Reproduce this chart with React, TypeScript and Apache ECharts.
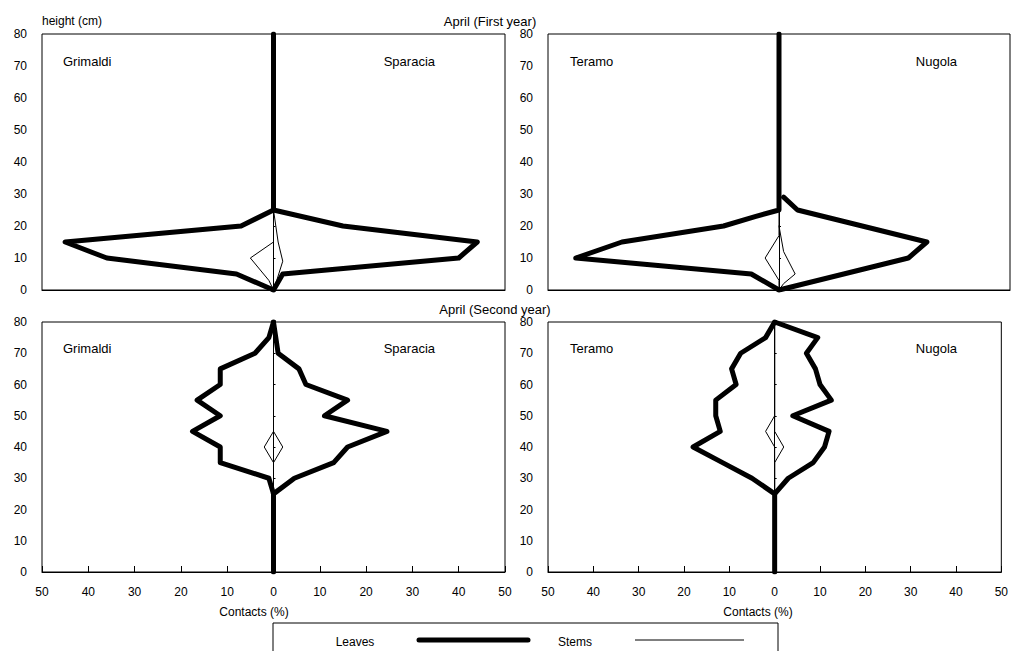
import React, { useEffect, useRef } from "react";
import * as echarts from "echarts";

// ---- Data (contacts %, heights cm) ----
// April, first year
const grimaldi1Heights = [0, 5, 10, 15, 20, 25, 80];
const grimaldi1Leaves = [0, 8, 36, 45, 7, 0, 0];
const sparacia1Heights = [0, 5, 10, 15, 20, 25];
const sparacia1Leaves = [0, 2, 40, 44, 15, 0];
const grimaldi1StemHeights = [0, 3, 10, 15, 25, 80];
const grimaldi1Stems = [0, 1, 5, 0, 0, 0];
const sparacia1StemHeights = [0, 3, 9, 15, 25];
const sparacia1Stems = [0, 0.7, 2, 1, 0];

const teramo1Heights = [0, 5, 10, 15, 20, 23, 25, 80];
const teramo1Leaves = [0, 6, 44, 34, 12, 5, 0, 0];
const nugola1Heights = [0, 5, 10, 15, 20, 25, 29];
const nugola1Leaves = [0, 14, 28, 32, 18, 4, 1];
const teramo1StemHeights = [0, 3, 10, 17, 80];
const teramo1Stems = [0, 0, 3, 0, 0];
const nugola1StemHeights = [0, 2, 5, 12, 20];
const nugola1Stems = [0, 1, 3.5, 1, 0];

// April, second year
const grimaldi2Heights = [0, 25, 30, 35, 40, 45, 50, 55, 60, 65, 70, 75, 80];
const grimaldi2Leaves = [0, 0, 1, 11.5, 11.5, 17.5, 11.5, 16.5, 11.5, 11.5, 4, 1, 0];
const sparacia2Heights = [25, 30, 35, 40, 45, 50, 55, 60, 65, 70, 80];
const sparacia2Leaves = [0, 4.5, 13, 16, 24.5, 11, 16, 7, 5.5, 1, 0];
const grimaldi2StemHeights = [0, 35, 40, 45, 80];
const grimaldi2Stems = [0, 0, 2, 0, 0];
const sparacia2StemHeights = [0, 35, 40, 45, 80];
const sparacia2Stems = [0, 0, 2, 0, 0];

const teramo2Heights = [0, 25, 30, 35, 40, 45, 50, 55, 60, 65, 70, 75, 80];
const teramo2Leaves = [0, 0, 5, 11.5, 18, 12, 13, 13, 8.5, 9.5, 7.5, 2, 0];
const nugola2Heights = [25, 30, 35, 40, 45, 50, 55, 60, 65, 70, 75, 80];
const nugola2Leaves = [0, 3, 8.5, 11, 12, 4, 12.5, 10, 9, 7, 9.5, 0];
const teramo2StemHeights = [0, 40, 45, 50, 80];
const teramo2Stems = [0, 0, 2, 0, 0];
const nugola2StemHeights = [0, 35, 40, 45, 80];
const nugola2Stems = [0, 0, 2, 0, 0];

const panelTitles = ["April (First year)", "April (Second year)"];
const leftNames = ["Grimaldi", "Teramo"];
const rightNames = ["Sparacia", "Nugola"];
const legendNames = ["Leaves", "Stems"];

const FONT = "Liberation Sans, Arial, sans-serif";

export default function App() {
  const ref = useRef<HTMLDivElement>(null);
  useEffect(() => {
    document.body.style.margin = "0";
    if (!ref.current) return;
    const chart = echarts.init(ref.current, undefined, { renderer: "svg" });

    const TOP1 = 34;
    const H1 = 256;
    const TOP2 = 322;
    const H2 = 250;
    const grids = [
      { left: 42, top: TOP1, width: 463, height: H1 },
      { left: 548, top: TOP1, width: 462, height: H1 },
      { left: 42, top: TOP2, width: 463, height: H2 },
      { left: 548, top: TOP2, width: 462, height: H2 },
    ].map((g) => ({ ...g, show: true, borderColor: "#000", borderWidth: 1, containLabel: false }));

    const xAxes = grids.map((_, i) => ({
      type: "value",
      gridIndex: i,
      min: -50,
      max: 50,
      interval: 10,
      splitLine: { show: false },
      axisLine: { show: true, onZero: false, lineStyle: { color: "#000", width: 1 } },
      axisTick: { show: i >= 2, inside: true, length: 6, lineStyle: { color: "#000" } },
      axisLabel: {
        show: i >= 2,
        color: "#000",
        fontSize: 12,
        fontFamily: FONT,
        margin: 14,
        formatter: (v: number) => String(Math.abs(v)),
      },
    }));

    const yAxes = grids.map((_, i) => ({
      type: "value",
      gridIndex: i,
      min: 0,
      max: 80,
      interval: 10,
      splitLine: { show: false },
      axisLine: { show: true, lineStyle: { color: "#000", width: 1 } },
      axisTick: { show: true, inside: true, length: 2, lineStyle: { color: "#000" } },
      axisLabel: { color: "#000", fontSize: 12, fontFamily: FONT, margin: 15 },
    }));

    const mk = (
      heights: number[],
      vals: number[],
      side: number,
      g: number,
      thick: boolean,
      name: string
    ) => ({
      type: "line",
      name,
      xAxisIndex: g,
      yAxisIndex: g,
      data: heights.map((h, i) => [side * vals[i], h]),
      showSymbol: false,
      symbol: "none",
      silent: true,
      z: thick ? 3 : 4,
      lineStyle: {
        color: "#000",
        width: thick ? 5 : 1,
        join: "round",
        cap: "round",
      },
    });

    const series = [
      mk(grimaldi1Heights, grimaldi1Leaves, -1, 0, true, "Grimaldi leaves 1"),
      mk(sparacia1Heights, sparacia1Leaves, 1, 0, true, "Sparacia leaves 1"),
      mk(grimaldi1StemHeights, grimaldi1Stems, -1, 0, false, "Grimaldi stems 1"),
      mk(sparacia1StemHeights, sparacia1Stems, 1, 0, false, "Sparacia stems 1"),
      mk(teramo1Heights, teramo1Leaves, -1, 1, true, "Teramo leaves 1"),
      mk(nugola1Heights, nugola1Leaves, 1, 1, true, "Nugola leaves 1"),
      mk(teramo1StemHeights, teramo1Stems, -1, 1, false, "Teramo stems 1"),
      mk(nugola1StemHeights, nugola1Stems, 1, 1, false, "Nugola stems 1"),
      mk(grimaldi2Heights, grimaldi2Leaves, -1, 2, true, "Grimaldi leaves 2"),
      mk(sparacia2Heights, sparacia2Leaves, 1, 2, true, "Sparacia leaves 2"),
      mk(grimaldi2StemHeights, grimaldi2Stems, -1, 2, false, "Grimaldi stems 2"),
      mk(sparacia2StemHeights, sparacia2Stems, 1, 2, false, "Sparacia stems 2"),
      mk(teramo2Heights, teramo2Leaves, -1, 3, true, "Teramo leaves 2"),
      mk(nugola2Heights, nugola2Leaves, 1, 3, true, "Nugola leaves 2"),
      mk(teramo2StemHeights, teramo2Stems, -1, 3, false, "Teramo stems 2"),
      mk(nugola2StemHeights, nugola2Stems, 1, 3, false, "Nugola stems 2"),
    ];

    const txt = (x: number, y: number, text: string, align = "left", size = 13) => ({
      type: "text",
      x,
      y,
      silent: true,
      style: {
        text,
        fill: "#000",
        font: `${size}px ${FONT}`,
        textAlign: align,
        textVerticalAlign: "middle",
      },
    });

    const graphic: any[] = [
      txt(42, 21, "height (cm)", "left", 12),
      txt(490, 21, panelTitles[0], "center"),
      txt(495, 309, panelTitles[1], "center"),
    ];
    [
      [TOP1, H1],
      [TOP2, H2],
    ].forEach(([top, h]) => {
      const y = top + (h * 8.5) / 80;
      graphic.push(txt(63, y, leftNames[0]));
      graphic.push(txt(435, y, rightNames[0], "right"));
      graphic.push(txt(570, y, leftNames[1]));
      graphic.push(txt(957, y, rightNames[1], "right"));
    });
    graphic.push(txt(254, 612, "Contacts (%)", "center", 12));
    graphic.push(txt(758, 612, "Contacts (%)", "center", 12));
    // legend box
    graphic.push({
      type: "rect",
      silent: true,
      shape: { x: 273, y: 623, width: 505, height: 40 },
      style: { fill: "none", stroke: "#000", lineWidth: 1 },
    });
    graphic.push(txt(355, 642, legendNames[0], "center", 12));
    graphic.push({
      type: "line",
      silent: true,
      shape: { x1: 419, y1: 640, x2: 528, y2: 640 },
      style: { stroke: "#000", lineWidth: 5, lineCap: "round" },
    });
    graphic.push(txt(575, 642, legendNames[1], "center", 12));
    graphic.push({
      type: "line",
      silent: true,
      shape: { x1: 635, y1: 640, x2: 744, y2: 640 },
      style: { stroke: "#000", lineWidth: 1 },
    });

    chart.setOption({
      animation: false,
      backgroundColor: "#fff",
      grid: grids,
      xAxis: xAxes,
      yAxis: yAxes,
      series,
      graphic,
    });
    return () => chart.dispose();
  }, []);
  return <div ref={ref} style={{ width: 1011, height: 651 }} />;
}
